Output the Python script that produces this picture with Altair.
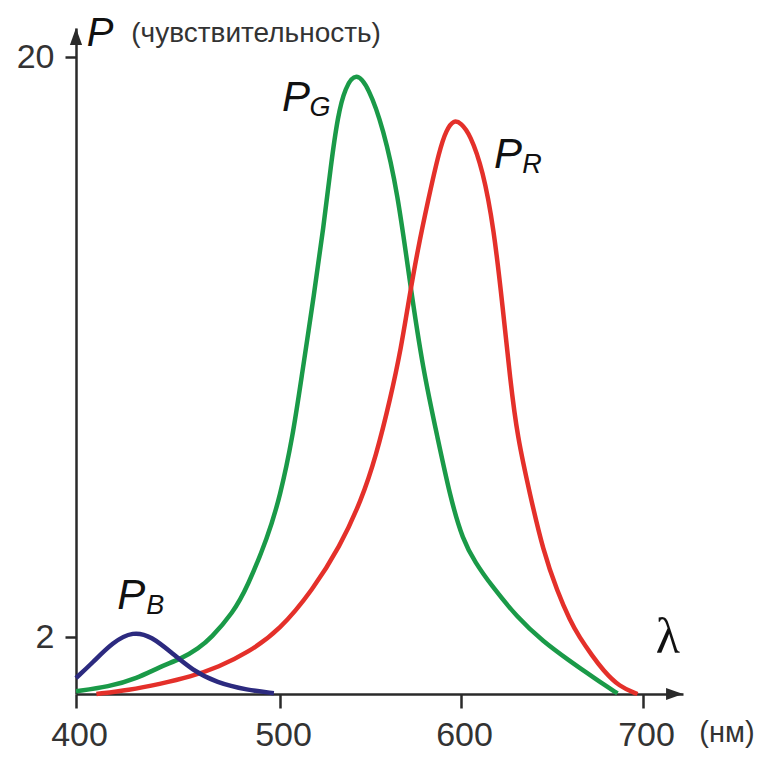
import altair as alt
import pandas as pd

# ---- data ----
GREEN_WL = [400, 416, 430, 441, 452, 460, 466, 477, 484, 494, 500, 507, 512, 519, 524, 528, 532, 536, 542,
            549, 557, 565, 572, 579, 587, 594, 601, 608, 616, 631, 645, 660, 669, 678, 686]
GREEN_P = [0.1, 0.25, 0.55, 0.95, 1.25, 1.6, 1.95, 2.75, 3.55, 5.1, 6.35, 8.2, 10.1, 12.7, 14.7, 16.6, 18.2, 19.05, 19.55,
           19.05, 17.8, 15.8, 12.9, 10.3, 8.2, 6.35, 5.0, 4.3, 3.65, 2.6, 1.85, 1.15, 0.75, 0.35, 0.02]

RED_WL = [410, 426, 441, 456, 470, 484, 500, 518, 533, 545, 553, 561, 567, 571, 576, 582, 588, 592, 596, 600,
          605, 612, 618, 623, 627, 631, 638, 645, 653, 660, 665, 672, 678, 687, 697]
RED_P = [0.0, 0.14, 0.35, 0.6, 0.95, 1.44, 2.22, 3.46, 4.79, 6.25, 7.6, 9.4, 11.0, 12.4, 14.0, 15.6, 17.1, 17.75, 18.05, 17.95,
         17.6, 16.5, 14.7, 12.2, 10.0, 8.2, 6.4, 4.7, 3.4, 2.5, 2.0, 1.35, 0.84, 0.25, 0.0]

BLUE_WL = [400, 408, 418, 428, 437, 447, 457, 469, 484, 497]
BLUE_P = [0.56, 1.09, 1.82, 2.18, 2.02, 1.44, 0.84, 0.39, 0.14, 0.03]

SERIES = ["G", "R", "B"]
COLORS = ["#1a9a48", "#e4302a", "#2c2a7f"]

X_TICKS = [400, 500, 600, 700]
Y_TICKS = [2, 20]

# piecewise scales (the original axes are not uniform)
X_DOMAIN = [400, 500, 600, 700, 722]
X_RANGE = [0, 204, 385, 567, 607]
Y_DOMAIN = [0, 2, 20, 20.9]
Y_RANGE = [666, 609, 29, 0]

# curve labels
CURVE_LBL_X = [508.8, 625.8, 427.1]
CURVE_LBL_Y = [18.73, 16.96, 3.27]
CURVE_LBL_SUB = ["G", "R", "B"]

rows = []
for s, wl, p in [("G", GREEN_WL, GREEN_P), ("R", RED_WL, RED_P), ("B", BLUE_WL, BLUE_P)]:
    for w, v in zip(wl, p):
        rows.append({"series": s, "wl": w, "p": v})
df = pd.DataFrame(rows)

xs = alt.Scale(domain=X_DOMAIN, range=X_RANGE, zero=False, nice=False)
ys = alt.Scale(domain=Y_DOMAIN, range=Y_RANGE, zero=False, nice=False)

AX = "#2a2a2a"
FONT = "Liberation Sans"

x_enc = alt.X("wl:Q", scale=xs, axis=alt.Axis(values=X_TICKS, title=None, grid=False, tickSize=14, tickWidth=2.5,
                                              tickColor=AX, domainColor=AX, domainWidth=2.5, labelFontSize=34,
                                              labelFont=FONT, labelColor="#333333", labelPadding=10, labelFlush=False,
                                              labelOffset=3, labelOverlap=False))
y_enc = alt.Y("p:Q", scale=ys, axis=alt.Axis(values=Y_TICKS, title=None, grid=False, tickSize=11, tickWidth=2.5,
                                             tickColor=AX, domainColor=AX, domainWidth=2.5, labelFontSize=34,
                                             labelFont=FONT, labelColor="#333333", labelPadding=11, labelFlush=False,
                                             labelOverlap=False))

lines = alt.Chart(df).mark_line(strokeWidth=4.5, interpolate="basis").encode(
    x=x_enc, y=y_enc,
    color=alt.Color("series:N", scale=alt.Scale(domain=SERIES, range=COLORS), legend=None),
    detail="series:N",
)

lbl = pd.DataFrame({"wl": CURVE_LBL_X, "p": CURVE_LBL_Y, "sub": CURVE_LBL_SUB, "main": ["P"] * 3})
lbl_main = alt.Chart(lbl).mark_text(fontSize=42, fontStyle="italic", font=FONT, color="#111111",
                                    align="center", baseline="middle").encode(
    x=alt.X("wl:Q", scale=xs), y=alt.Y("p:Q", scale=ys), text="main:N")
lbl_sub = alt.Chart(lbl).mark_text(fontSize=27, fontStyle="italic", font=FONT, color="#111111",
                                   align="center", baseline="middle", dx=24, dy=10).encode(
    x=alt.X("wl:Q", scale=xs), y=alt.Y("p:Q", scale=ys), text="sub:N")

# axis titles
ytitle = pd.DataFrame({"wl": [411.8], "p": [20.72], "t": ["P"]})
ytitle_m = alt.Chart(ytitle).mark_text(fontSize=40, fontStyle="italic", font=FONT, color="#111111",
                                       align="center", baseline="middle").encode(
    x=alt.X("wl:Q", scale=xs), y=alt.Y("p:Q", scale=ys), text="t:N")
ysub = pd.DataFrame({"wl": [427.1], "p": [20.7], "t": ["(чувствительность)"]})
ysub_m = alt.Chart(ysub).mark_text(fontSize=28, font=FONT, color="#333333",
                                   align="left", baseline="middle").encode(
    x=alt.X("wl:Q", scale=xs), y=alt.Y("p:Q", scale=ys), text="t:N")
lam = pd.DataFrame({"wl": [713.7], "p": [1.95], "t": ["λ"]})
lam_m = alt.Chart(lam).mark_text(fontSize=50, font="Liberation Serif", color="#111111",
                                 align="center", baseline="middle").encode(
    x=alt.X("wl:Q", scale=xs), y=alt.Y("p:Q", scale=ys), text="t:N")
nm = pd.DataFrame({"wl": [746.2], "p": [-1.36], "t": ["(нм)"]})
nm_m = alt.Chart(nm).mark_text(fontSize=29, font=FONT, color="#333333",
                               align="center", baseline="middle").encode(
    x=alt.X("wl:Q", scale=xs), y=alt.Y("p:Q", scale=ys), text="t:N")

# arrow heads at the ends of the axes
arr_up = pd.DataFrame({"wl": [X_DOMAIN[0]], "p": [Y_DOMAIN[-1]]})
arrow_up = alt.Chart(arr_up).mark_point(shape="M0,0L-0.36,1L0.36,1Z", size=1150, filled=True, opacity=1,
                                        strokeWidth=0, color=AX).encode(
    x=alt.X("wl:Q", scale=xs), y=alt.Y("p:Q", scale=ys))
arr_rt = pd.DataFrame({"wl": [X_DOMAIN[-1]], "p": [Y_DOMAIN[0]]})
arrow_rt = alt.Chart(arr_rt).mark_point(shape="M0,0L-1,-0.36L-1,0.36Z", size=1150, filled=True, opacity=1,
                                        strokeWidth=0, color=AX).encode(
    x=alt.X("wl:Q", scale=xs), y=alt.Y("p:Q", scale=ys))

chart = alt.layer(lines, lbl_main, lbl_sub, ytitle_m, ysub_m, lam_m, nm_m, arrow_up, arrow_rt).properties(
    width=607, height=666,
    autosize=alt.AutoSizeParams(type="none"),
    padding={"left": 68, "top": 20, "right": 76, "bottom": 60},
    background="white",
).configure_view(stroke=None)

chart.save("out.html", embed_options={"renderer": "svg", "actions": False})
